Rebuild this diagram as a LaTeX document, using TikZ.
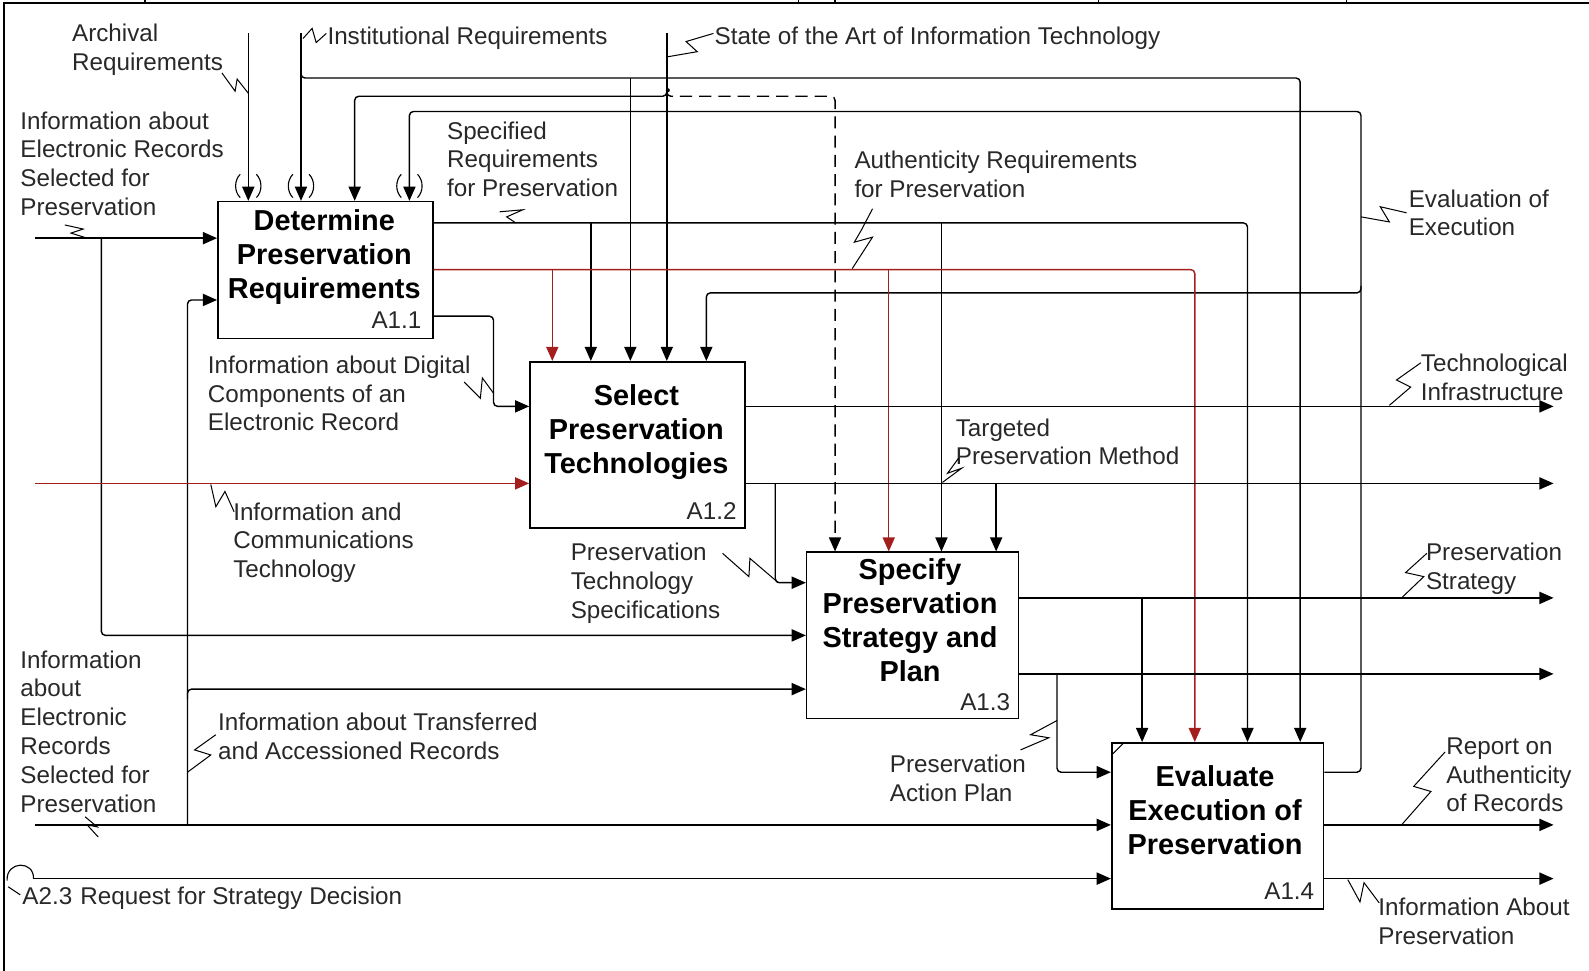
\documentclass[tikz,border=0pt]{standalone}
\usepackage{fontspec}
\setmainfont{Liberation Sans}
\usetikzlibrary{arrows.meta}
\definecolor{dred}{RGB}{164,30,30}
\definecolor{txt}{RGB}{40,40,40}
\begin{document}
\begin{tikzpicture}[x=1pt,y=-1pt,
  flow/.style={line width=1.4pt, rounded corners=4pt},
  arr/.style={flow, -{Triangle[length=14pt,width=12pt]}},
  redarr/.style={arr, color=dred},
  dasharr/.style={arr, dash pattern=on 12pt off 7pt},
  sq/.style={line width=1pt},
  paren/.style={line width=1.1pt},
  box/.style={draw, line width=1.6pt, inner sep=0pt, fill=white},
  lbl/.style={font=\fontsize{23.9}{28.4}\selectfont, text=txt, align=left,
    inner sep=0pt, anchor=north west, yshift=9.2pt, execute at begin node=\strut},
  ttl/.style={font=\fontsize{28.5}{33.5}\selectfont\bfseries, align=center,
    inner sep=0pt, anchor=north, yshift=10.6pt, execute at begin node=\strut},
  ref/.style={font=\fontsize{23.9}{28}\selectfont, text=txt, inner sep=0pt, anchor=base east}]

\useasboundingbox (0,0) rectangle (1568,958);

% sheet border
\draw[line width=1.3pt] (4,958) -- (4,3) -- (1568,3);
\foreach \t in {143,788,824,1084,1329} \draw[line width=1.3pt] (\t,0) -- (\t,3);

% activity boxes
\node[box, minimum width=212pt, minimum height=135pt] (a11) at (321,266.5) {};
\node[box, minimum width=212pt, minimum height=164pt] (a12) at (629,439) {};
\node[box, minimum width=209pt, minimum height=164pt] (a13) at (900.5,627) {};
\node[box, minimum width=209pt, minimum height=164pt] (a14) at (1201.5,815) {};

\node[ttl] (t11) at (320,217) {Determine\\Preservation\\Requirements};
\node[ttl] (t12) at (628,390) {Select\\Preservation\\Technologies};
\node[ttl] (t13) at (898,562) {Specify\\Preservation\\Strategy and\\Plan};
\node[ttl] (t14) at (1199,766) {Evaluate\\Execution of\\Preservation};

\node[ref] (r11) at (416,324) {A1.1};
\node[ref] (r12) at (727,513) {A1.2};
\node[ref] (r13) at (997,701) {A1.3};
\node[ref] (r14) at (1297,888) {A1.4};
\draw[line width=1pt] (1097,745) -- (1109,733);

% coordinates of free ends, bends and branch points
\coordinate (arch) at (245,33);
\coordinate (inst) at (297,33);
\coordinate (sota) at (658,33);
\coordinate (iJ) at (297,70);
\coordinate (iK) at (1283,77);
\coordinate (iB) at (622,77);
\coordinate (sJ) at (658,87);
\coordinate (sL) at (350,95);
\coordinate (sR) at (824,95);
\coordinate (fbY) at (1343,762);
\coordinate (fbT) at (1343,110);
\coordinate (fbL) at (404,110);
\coordinate (fbJ) at (1343,282);
\coordinate (fbM) at (697,289);
\coordinate (spR) at (1231,220);
\coordinate (spA) at (583,220);
\coordinate (spB) at (929,220);
\coordinate (auR) at (1179,266);
\coordinate (auA) at (545,266);
\coordinate (auB) at (877,266);
\coordinate (dcT) at (487,312);
\coordinate (dcB) at (487,401);
\coordinate (in1) at (35,235);
\coordinate (b1) at (100,235);
\coordinate (b1d) at (100,627);
\coordinate (in2) at (35,814);
\coordinate (b2) at (185,814);
\coordinate (b2u) at (185,296);
\coordinate (b2n) at (185,690);
\coordinate (b2m) at (185,680);
\coordinate (in3) at (35,477);
\coordinate (in4) at (33,867);
\coordinate (o1) at (1533,401);
\coordinate (o2) at (1533,477);
\coordinate (t1) at (765,477);
\coordinate (t1d) at (765,575);
\coordinate (t2) at (983,477);
\coordinate (o3) at (1533,590);
\coordinate (s1) at (1127,590);
\coordinate (o4) at (1533,665);
\coordinate (pa) at (1043,665);
\coordinate (pad) at (1043,762);
\coordinate (o5) at (1533,814);
\coordinate (o6) at (1533,867);

% controls from outside
\draw[arr] (arch) -- (arch |- a11.north);
\draw[arr] (inst) -- (inst |- a11.north);
\draw[arr] (iJ) |- (iK) -- (iK |- a14.north);
\draw[arr] (iB) -- (iB |- a12.north);
\draw[arr] (sota) -- (sota |- a12.north);
\draw[arr] (sJ) |- (sL) -- (sL |- a11.north);
\draw[dasharr] (sJ) |- (sR) -- (sR |- a13.north);
\fill (659,89) circle (2pt);

% feedback: evaluation of execution
\draw[arr] (a14.east |- fbY) -- (fbY) -- (fbT) -- (fbL) -- (fbL |- a11.north);
\draw[arr] (fbJ) |- (fbM) -- (fbM |- a12.north);

% outputs of A1.1
\draw[arr] (a11.east |- spR) -- (spR) -- (spR |- a14.north);
\draw[arr] (spA) -- (spA |- a12.north);
\draw[arr] (spB) -- (spB |- a13.north);
\draw[redarr] (a11.east |- auR) -- (auR) -- (auR |- a14.north);
\draw[redarr] (auA) -- (auA |- a12.north);
\draw[redarr] (auB) -- (auB |- a13.north);
\draw[arr] (a11.east |- dcT) -- (dcT) -- (dcB) -- (dcB -| a12.west);

% inputs from the left
\draw[arr] (in1) -- (in1 -| a11.west);
\draw[arr] (b1) -- (b1d) -- (b1d -| a13.west);
\draw[arr] (in2) -- (in2 -| a14.west);
\draw[arr] (b2) -- (b2u) -- (b2u -| a11.west);
\draw[arr] (b2n) |- (b2m -| a13.west);
\draw[redarr] (in3) -- (in3 -| a12.west);
\draw[arr] (in4) -- (in4 -| a14.west);
\draw[line width=1.1pt] (in4) .. controls (34,849) and (6,849) .. (7,869);
\draw[line width=1pt] (8,875) -- (20,883);

% outputs of A1.2
\draw[arr] (a12.east |- o1) -- (o1);
\draw[arr] (a12.east |- o2) -- (o2);
\draw[arr] (t1) -- (t1d) -- (t1d -| a13.west);
\draw[arr] (t2) -- (t2 |- a13.north);

% outputs of A1.3
\draw[arr] (a13.east |- o3) -- (o3);
\draw[arr] (s1) -- (s1 |- a14.north);
\draw[arr] (a13.east |- o4) -- (o4);
\draw[arr] (pa) -- (pad) -- (pad -| a14.west);

% outputs of A1.4
\draw[arr] (a14.east |- o5) -- (o5);
\draw[arr] (a14.east |- o6) -- (o6);

% tunnel marks
\foreach \px in {245,297,404} {
  \draw[paren] (\px-8,172) .. controls (\px-14,178) and (\px-14,189) .. (\px-8,195);
  \draw[paren] (\px+8,172) .. controls (\px+14,178) and (\px+14,189) .. (\px+8,195);
}

% labels
\node[lbl] (lArch) at (71,33) {Archival\\Requirements};
\node[lbl] (lInst) at (323,33) {Institutional Requirements};
\node[lbl] (lSota) at (705,33) {State of the Art of Information Technology};
\node[lbl] (lIer) at (20,119) {Information about\\Electronic Records\\Selected for\\Preservation};
\node[lbl] (lSpec) at (441,129) {Specified\\Requirements\\for Preservation};
\node[lbl] (lAuth) at (843,158) {Authenticity Requirements\\for Preservation};
\node[lbl] (lEval) at (1390,196) {Evaluation of\\Execution};
\node[lbl] (lDig) at (205,360) {Information about Digital\\Components of an\\Electronic Record};
\node[lbl] (lTech) at (1402,358) {Technological\\Infrastructure};
\node[lbl] (lTarg) at (943,422) {Targeted\\Preservation Method};
\node[lbl] (lIct) at (230,505) {Information and\\Communications\\Technology};
\node[lbl] (lPts) at (563,545) {Preservation\\Technology\\Specifications};
\node[lbl] (lStrat) at (1407,545) {Preservation\\Strategy};
\node[lbl] (lIer2) at (20,651) {Information\\about\\Electronic\\Records\\Selected for\\Preservation};
\node[lbl] (lTrans) at (215,713) {Information about Transferred\\and Accessioned Records};
\node[lbl] (lPap) at (878,754) {Preservation\\Action Plan};
\node[lbl] (lRep) at (1427,737) {Report on\\Authenticity\\of Records};
\node[lbl] (lReq) at (22,882) {A2.3\hspace{8pt}Request for Strategy Decision};
\node[lbl] (lInfo) at (1360,895) {Information About\\Preservation};

% squiggle leaders
\draw[sq] (219,72) -- (232,90) -- (234,78) -- (245,92);
\draw[sq] (299,38) -- (308,28) -- (312,42) -- (322,33);
\draw[sq] (659,56) -- (688,51) -- (677,41) -- (704,33);
\draw[sq] (64,222) -- (82,226) -- (70,230) -- (86,235);
\draw[sq] (493,209) -- (516,207) -- (500,214) -- (509,220);
\draw[sq] (861,206) -- (850,227) -- (843,239) -- (861,234) -- (841,265);
\draw[sq] (1343,214) -- (1371,219) -- (1362,204) -- (1388,210);
\draw[sq] (458,377) -- (474,393) -- (476,373) -- (487,388);
\draw[sq] (208,478) -- (213,500) -- (222,485) -- (231,505);
\draw[sq] (1371,400) -- (1392,382) -- (1378,375) -- (1402,358);
\draw[sq] (930,476) -- (949,462) -- (935,467) -- (946,452);
\draw[sq] (713,546) -- (739,569) -- (740,551) -- (768,575);
\draw[sq] (1383,590) -- (1405,569) -- (1387,565) -- (1408,546);
\draw[sq] (1007,740) -- (1035,728) -- (1017,725) -- (1043,711);
\draw[sq] (1383,814) -- (1412,781) -- (1395,776) -- (1426,742);
\draw[sq] (1330,868) -- (1342,890) -- (1346,871) -- (1361,891);
\draw[sq] (185,762) -- (208,745) -- (192,740) -- (213,725);
\draw[sq] (84,806) -- (96,816) -- (86,814) -- (97,826);

\end{tikzpicture}
\end{document}
